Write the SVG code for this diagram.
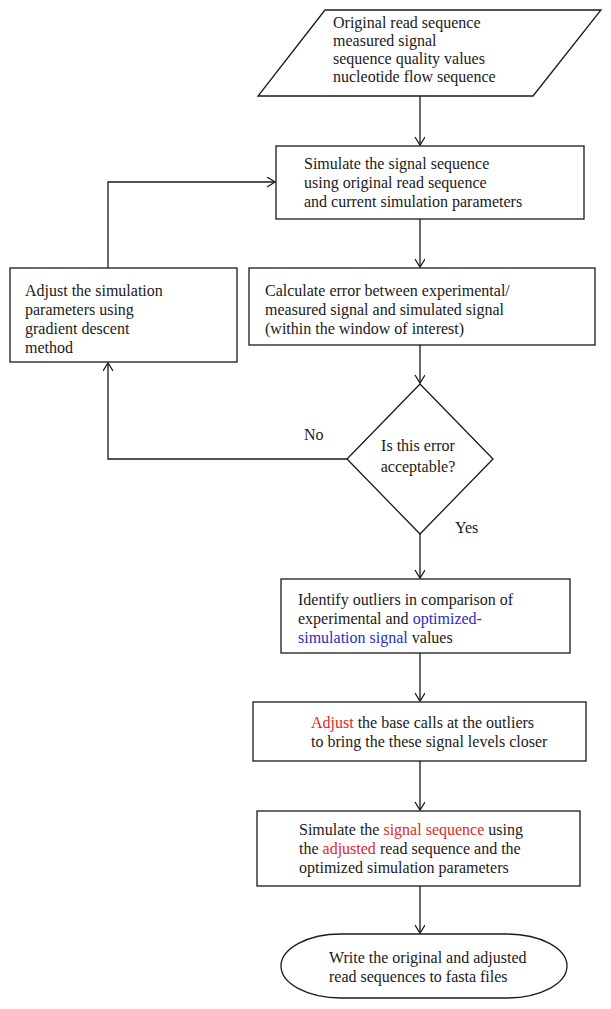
<svg xmlns="http://www.w3.org/2000/svg" width="611" height="1009" viewBox="0 0 611 1009">
<style>
.s{fill:#fff;stroke:#1a1a1a;stroke-width:1.3}
.c{fill:none;stroke:#1a1a1a;stroke-width:1.3}
text{font-family:"Liberation Serif","Times New Roman",serif;font-size:16px;fill:#1a1a1a}
.b{fill:#2a2ac8}
.r{fill:#e02828}
</style>
<defs>
<marker id="a" markerWidth="12" markerHeight="12" refX="9" refY="5" orient="auto" markerUnits="userSpaceOnUse">
<path d="M1,0 L9,5 L1,10" fill="none" stroke="#1a1a1a" stroke-width="1.3"/>
</marker>
</defs>
<rect width="611" height="1009" fill="#fff"/>
<g id="connectors">
<line class="c" x1="420" y1="96" x2="420" y2="145" marker-end="url(#a)"/>
<line class="c" x1="420" y1="219" x2="420" y2="267" marker-end="url(#a)"/>
<line class="c" x1="420" y1="345" x2="420" y2="383" marker-end="url(#a)"/>
<polyline class="c" points="108,268 108,182 275,182" marker-end="url(#a)"/>
<polyline class="c" points="347,459 108,459 108,363" marker-end="url(#a)"/>
<line class="c" x1="420" y1="534" x2="420" y2="578" marker-end="url(#a)"/>
<line class="c" x1="420" y1="653" x2="420" y2="701" marker-end="url(#a)"/>
<line class="c" x1="420" y1="761" x2="420" y2="810" marker-end="url(#a)"/>
<line class="c" x1="420" y1="886" x2="420" y2="933" marker-end="url(#a)"/>
<text x="304" y="440">No</text>
<text x="455" y="533">Yes</text>
</g>
<g id="input">
<polygon class="s" points="325,10 601,10 533,96 258,96"/>
<text x="333" y="28">Original read sequence</text>
<text x="333" y="46">measured signal</text>
<text x="333" y="64">sequence quality values</text>
<text x="333" y="82">nucleotide flow sequence</text>
</g>
<g id="simulate">
<rect class="s" x="276" y="146" width="308" height="73"/>
<text x="304" y="169">Simulate the signal sequence</text>
<text x="304" y="188">using original read sequence</text>
<text x="304" y="207">and current simulation parameters</text>
</g>
<g id="calc">
<rect class="s" x="249" y="268" width="346" height="77"/>
<text x="265" y="296">Calculate error between experimental/</text>
<text x="265" y="315">measured signal and simulated signal</text>
<text x="265" y="334">(within the window of interest)</text>
</g>
<g id="adjustparams">
<rect class="s" x="10" y="268" width="227" height="94"/>
<text x="25" y="296">Adjust the simulation</text>
<text x="25" y="315">parameters using</text>
<text x="25" y="334">gradient descent</text>
<text x="25" y="353">method</text>
</g>
<g id="decision">
<polygon class="s" points="420,384 493,459 420,534 347,459"/>
<text x="418" y="451" text-anchor="middle">Is this error</text>
<text x="418" y="472" text-anchor="middle">acceptable?</text>
</g>
<g id="outliers">
<rect class="s" x="281" y="579" width="289" height="74"/>
<text x="298" y="605">Identify outliers in comparison of</text>
<text x="298" y="624">experimental and <tspan class="b">optimized-</tspan></text>
<text x="298" y="643"><tspan class="b">simulation signal</tspan> values</text>
</g>
<g id="adjustcalls">
<rect class="s" x="253" y="702" width="333" height="59"/>
<text x="311" y="728"><tspan class="r">Adjust</tspan> the base calls at the outliers</text>
<text x="311" y="747">to bring the these signal levels closer</text>
</g>
<g id="resimulate">
<rect class="s" x="257" y="811" width="323" height="75"/>
<text x="299" y="835">Simulate the <tspan class="r">signal sequence</tspan> using</text>
<text x="299" y="854">the <tspan class="r">adjusted</tspan> read sequence and the</text>
<text x="299" y="873">optimized simulation parameters</text>
</g>
<g id="write">
<rect class="s" x="281" y="934" width="286" height="64" rx="60" ry="32"/>
<text x="329" y="963">Write the original and adjusted</text>
<text x="329" y="982">read sequences to fasta files</text>
</g>
</svg>
